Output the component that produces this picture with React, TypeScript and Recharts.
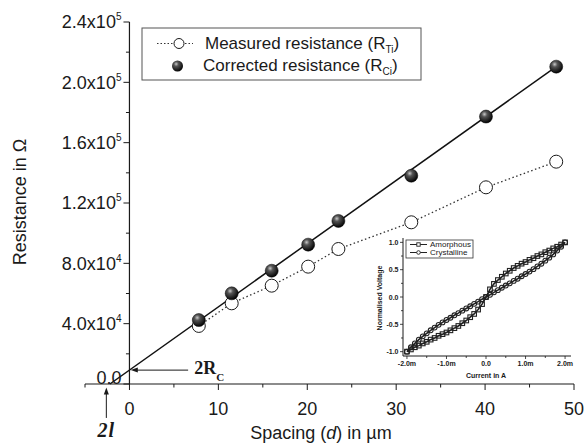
import React from 'react';
import { ComposedChart, LineChart, Line, XAxis, YAxis, ReferenceLine } from 'recharts';

// main plot: spacing d (µm) vs resistance (Ω)
const spacing = [7.8, 11.5, 16.0, 20.1, 23.5, 31.7, 40.1, 48.0];
const measured = [38500, 53500, 65200, 77800, 89500, 107200, 130400, 147400];
const corrected = [42400, 60100, 75100, 92400, 108100, 138100, 177300, 210400];
// straight fit through the corrected values, from the 2l intercept
const fitSpacing = [-2.2, 48.0];
const fitResistance = [0, 210400];

const xTicks = [-5, 0, 5, 10, 15, 20, 25, 30, 35, 40, 45, 50];
const yTicks = [0, 20000, 40000, 60000, 80000, 100000, 120000, 140000, 160000, 180000, 200000, 220000, 240000];

// inset: normalised voltage vs current (mA)
const insetCurrent = [
  -2.0, -1.9, -1.8, -1.7, -1.6, -1.5, -1.4, -1.3, -1.2, -1.1, -1.0, -0.9, -0.8, -0.7, -0.6, -0.5, -0.4, -0.3, -0.2, -0.1,
  0.0, 0.1, 0.2, 0.3, 0.4, 0.5, 0.6, 0.7, 0.8, 0.9, 1.0, 1.1, 1.2, 1.3, 1.4, 1.5, 1.6, 1.7, 1.8, 1.9, 2.0,
];
const amorphous = [
  -1.0, -0.96, -0.92, -0.89, -0.85, -0.82, -0.78, -0.75, -0.71, -0.68, -0.65, -0.61, -0.57, -0.53, -0.48, -0.43, -0.37, -0.31, -0.23, -0.13,
  0.0, 0.14, 0.24, 0.31, 0.37, 0.43, 0.48, 0.53, 0.57, 0.61, 0.64, 0.68, 0.71, 0.75, 0.78, 0.82, 0.85, 0.89, 0.92, 0.96, 1.0,
];
const crystalline = [
  -1.0, -0.92, -0.85, -0.78, -0.72, -0.665, -0.61, -0.56, -0.51, -0.465, -0.42, -0.38, -0.335, -0.295, -0.25, -0.21, -0.17, -0.125, -0.085, -0.04,
  0.0, 0.04, 0.085, 0.125, 0.17, 0.21, 0.25, 0.295, 0.335, 0.38, 0.42, 0.465, 0.51, 0.56, 0.61, 0.665, 0.72, 0.78, 0.85, 0.92, 1.0,
];
const insetXTicks = [-2, -1.5, -1, -0.5, 0, 0.5, 1, 1.5, 2];
const insetYTicks = [-1, -0.75, -0.5, -0.25, 0, 0.25, 0.5, 0.75, 1];

const X_DOMAIN = [-5, 50];
const Y_DOMAIN = [0, 240000];
const PLOT_LEFT = 85;
const PLOT_RIGHT = 574;
const SANS = '"Liberation Sans", Arial, Helvetica, sans-serif';
const SERIF = '"Liberation Serif", "Times New Roman", serif';
const INK = '#1a1a1a';

const measuredData = spacing.map((d, i) => ({ d, r: measured[i] }));
const correctedData = spacing.map((d, i) => ({ d, r: corrected[i] }));
const fitData = fitSpacing.map((d, i) => ({ d, r: fitResistance[i] }));
const insetData = insetCurrent.map((c, i) => ({ i: c, a: amorphous[i], c: crystalline[i] }));

// the y axis sits at d = 0, not at the left edge of the plot
const yAxisShift = ((PLOT_RIGHT - PLOT_LEFT) * (0 - X_DOMAIN[0])) / (X_DOMAIN[1] - X_DOMAIN[0]);

function yLabel(v: number) {
  if (v === 0) return { m: '0.0', e: '' };
  const e = Math.floor(Math.log10(v));
  return { m: `${(v / Math.pow(10, e)).toFixed(1)}x10`, e: String(e) };
}

function renderYTick(p: any) {
  const v = p.payload.value;
  const ax = p.x + yAxisShift;
  const major = v % 40000 === 0;
  const { m, e } = yLabel(v);
  return (
    <g key={`yt-${v}`}>
      <line x1={ax - (major ? 6 : 3.5)} x2={ax} y1={p.y} y2={p.y} stroke={INK} strokeWidth={1} />
      {major && (
        <text x={ax - 8} y={p.y} dy={v === 0 ? 0 : 6.4} textAnchor="end" fontFamily={SANS} fontSize={18} fill={INK}>
          {m}
          {e && (
            <tspan fontSize={10} dy={-8}>
              {e}
            </tspan>
          )}
        </text>
      )}
    </g>
  );
}

function renderXTick(p: any) {
  const v = p.payload.value;
  const major = v % 10 === 0;
  return (
    <g key={`xt-${v}`}>
      <line x1={p.x} x2={p.x} y1={p.y} y2={p.y + (major ? 6 : 3.5)} stroke={INK} strokeWidth={1} />
      {major && (
        <text x={p.x} y={p.y + 31} textAnchor="middle" fontFamily={SANS} fontSize={18} fill={INK}>
          {v}
        </text>
      )}
    </g>
  );
}

function renderInsetXTick(p: any) {
  const v = p.payload.value;
  const major = Number.isInteger(v);
  return (
    <g key={`ixt-${v}`}>
      <line x1={p.x} x2={p.x} y1={p.y} y2={p.y + (major ? 3 : 2)} stroke={INK} strokeWidth={0.8} />
      {major && (
        <text x={p.x} y={p.y + 9.5} textAnchor="middle" fontFamily={SANS} fontWeight="bold" fontSize={7} fill={INK}>
          {v === 0 ? '0.0' : `${v.toFixed(1)}m`}
        </text>
      )}
    </g>
  );
}

function renderInsetYTick(p: any) {
  const v = p.payload.value;
  const major = Math.abs(v * 2 - Math.round(v * 2)) < 1e-9;
  return (
    <g key={`iyt-${v}`}>
      <line x1={p.x - (major ? 3 : 2)} x2={p.x} y1={p.y} y2={p.y} stroke={INK} strokeWidth={0.8} />
      {major && (
        <text x={p.x - 4.5} y={p.y + 2.5} textAnchor="end" fontFamily={SANS} fontWeight="bold" fontSize={7} fill={INK}>
          {v.toFixed(1)}
        </text>
      )}
    </g>
  );
}

const openDot = (p: any) => (
  <circle key={`o-${p.index}`} cx={p.cx} cy={p.cy} r={6.5} fill="#fff" stroke={INK} strokeWidth={1} />
);
const sphereDot = (p: any) => (
  <circle key={`s-${p.index}`} cx={p.cx} cy={p.cy} r={6.5} fill="url(#sphere)" stroke="#000" strokeWidth={0.5} />
);
const squareDot = (p: any) => (
  <rect key={`q-${p.index}`} x={p.cx - 2.3} y={p.cy - 2.3} width={4.6} height={4.6} fill="none" stroke="#222" strokeWidth={1.1} />
);
const ringDot = (p: any) => (
  <circle key={`c-${p.index}`} cx={p.cx} cy={p.cy} r={2.4} fill="none" stroke="#222" strokeWidth={1.1} />
);

const rcArrow = (p: any) => {
  const { x1, y1, x2, y2 } = p;
  return (
    <g>
      <line x1={x1} y1={y1} x2={x2 + 5} y2={y2} stroke={INK} strokeWidth={1} />
      <polygon points={`${x2},${y2} ${x2 + 7},${y2 - 2.5} ${x2 + 7},${y2 + 2.5}`} fill={INK} />
      <text x={x1 + 6} y={y1 + 4} fontFamily={SERIF} fontWeight="bold" fontSize={18} fill={INK}>
        2R
        <tspan fontSize={11} dy={7}>
          C
        </tspan>
      </text>
    </g>
  );
};

const lArrow = (p: any) => {
  const { x1, y1, x2, y2 } = p;
  return (
    <g>
      <line x1={x1} y1={y1} x2={x2} y2={y2 + 5} stroke={INK} strokeWidth={1} />
      <polygon points={`${x2},${y2} ${x2 - 2.5},${y2 + 7} ${x2 + 2.5},${y2 + 7}`} fill={INK} />
      <text x={x1} y={y1 + 19.5} textAnchor="middle" fontFamily={SERIF} fontWeight="bold" fontStyle="italic" fontSize={20} letterSpacing={1} fill={INK}>
        2l
      </text>
    </g>
  );
};

export default function App() {
  return (
    <div style={{ position: 'absolute', left: 0, top: 0, width: 587, height: 446, background: '#fff' }}>
      <ComposedChart width={587} height={446} margin={{ top: 22, right: 13, bottom: 0, left: 0 }}>
        <XAxis
          type="number"
          dataKey="d"
          domain={X_DOMAIN}
          ticks={xTicks}
          interval={0}
          height={62}
          tickSize={0}
          tickMargin={0}
          tick={renderXTick}
          axisLine={{ stroke: INK, strokeWidth: 1.2 }}
        />
        <YAxis
          type="number"
          domain={Y_DOMAIN}
          ticks={yTicks}
          interval={0}
          width={85}
          tickSize={0}
          tickMargin={0}
          tick={renderYTick}
          axisLine={false}
        />
        <ReferenceLine x={0} stroke={INK} strokeWidth={1.2} />
        <ReferenceLine
          segment={[{ x: 6.6, y: 9200 }, { x: 0.15, y: 9200 }]}
          ifOverflow="visible"
          shape={rcArrow}
        />
        <ReferenceLine
          segment={[{ x: -2.6, y: -22500 }, { x: -2.6, y: -2400 }]}
          ifOverflow="visible"
          shape={lArrow}
        />
        <Line data={fitData} dataKey="r" stroke="#111" strokeWidth={1.5} dot={false} isAnimationActive={false} />
        <Line
          data={measuredData}
          dataKey="r"
          stroke="#333"
          strokeWidth={1.3}
          strokeDasharray="1.5 2.5"
          dot={openDot}
          isAnimationActive={false}
        />
        <Line data={correctedData} dataKey="r" stroke="none" dot={sphereDot} isAnimationActive={false} />
      </ComposedChart>

      <div style={{ position: 'absolute', left: 360, top: 228 }}>
        <LineChart width={227} height={218} data={insetData} margin={{ top: 10, right: 16, bottom: 70, left: 0 }}>
          <XAxis
            type="number"
            dataKey="i"
            domain={[-2.1, 2.15]}
            ticks={insetXTicks}
            interval={0}
            height={20}
            tickSize={0}
            tickMargin={0}
            tick={renderInsetXTick}
            axisLine={{ stroke: INK, strokeWidth: 1 }}
            allowDataOverflow
          />
          <YAxis
            type="number"
            domain={[-1.08, 1.08]}
            ticks={insetYTicks}
            interval={0}
            width={43}
            tickSize={0}
            tickMargin={0}
            tick={renderInsetYTick}
            axisLine={{ stroke: INK, strokeWidth: 1 }}
            allowDataOverflow
          />
          <Line dataKey="c" stroke="#222" strokeWidth={1.6} dot={ringDot} isAnimationActive={false} />
          <Line dataKey="a" stroke="#222" strokeWidth={1.6} dot={squareDot} isAnimationActive={false} />
        </LineChart>
      </div>

      <svg width={587} height={446} style={{ position: 'absolute', left: 0, top: 0, pointerEvents: 'none' }}>
        <defs>
          <radialGradient id="sphere" cx="0.38" cy="0.32" r="0.7">
            <stop offset="0" stopColor="#c8c8c8" />
            <stop offset="0.3" stopColor="#555" />
            <stop offset="1" stopColor="#000" />
          </radialGradient>
        </defs>

        <text transform="translate(26,202) rotate(-90)" textAnchor="middle" fontFamily={SANS} fontSize={18} fill={INK}>
          Resistance in Ω
        </text>
        <text x={321} y={438.5} textAnchor="middle" fontFamily={SANS} fontSize={18} fill={INK}>
          Spacing (<tspan fontStyle="italic">d</tspan>) in µm
        </text>

        <rect x={142} y={28} width={279} height={52} fill="#fff" stroke="#555" strokeWidth={1} />
        <line x1={157} x2={193} y1={43.5} y2={43.5} stroke="#333" strokeWidth={1.2} strokeDasharray="1.5 2" />
        <circle cx={179} cy={43.5} r={5} fill="#fff" stroke={INK} strokeWidth={1} />
        <text x={205} y={49} fontFamily={SANS} fontSize={17} fill={INK}>
          Measured resistance (R<tspan fontSize={10} dy={4}>Ti</tspan>
          <tspan dy={-4}>)</tspan>
        </text>
        <circle cx={177.5} cy={66} r={5.5} fill="url(#sphere)" />
        <text x={203} y={71} fontFamily={SANS} fontSize={17} fill={INK}>
          Corrected resistance (R<tspan fontSize={10} dy={4}>Ci</tspan>
          <tspan dy={-4}>)</tspan>
        </text>

        <rect x={406} y={240} width={67} height={18} fill="#fff" stroke="#333" strokeWidth={0.8} />
        <line x1={410} x2={427} y1={244.5} y2={244.5} stroke="#222" strokeWidth={1} />
        <rect x={416.8} y={242.8} width={3.4} height={3.4} fill="#fff" stroke="#222" strokeWidth={0.9} />
        <text x={430} y={247.3} fontFamily={SANS} fontSize={8} fill={INK}>
          Amorphous
        </text>
        <line x1={410} x2={427} y1={252.5} y2={252.5} stroke="#222" strokeWidth={1} />
        <circle cx={418.5} cy={252.5} r={1.8} fill="#fff" stroke="#222" strokeWidth={0.9} />
        <text x={430} y={255.3} fontFamily={SANS} fontSize={8} fill={INK}>
          Crystalline
        </text>

        <text x={486} y={378} textAnchor="middle" fontFamily={SANS} fontWeight="bold" fontSize={7} fill={INK}>
          Current in A
        </text>
        <text transform="translate(382,298) rotate(-90)" textAnchor="middle" fontFamily={SANS} fontWeight="bold" fontSize={7} fill={INK}>
          Normalised Voltage
        </text>
      </svg>
    </div>
  );
}
